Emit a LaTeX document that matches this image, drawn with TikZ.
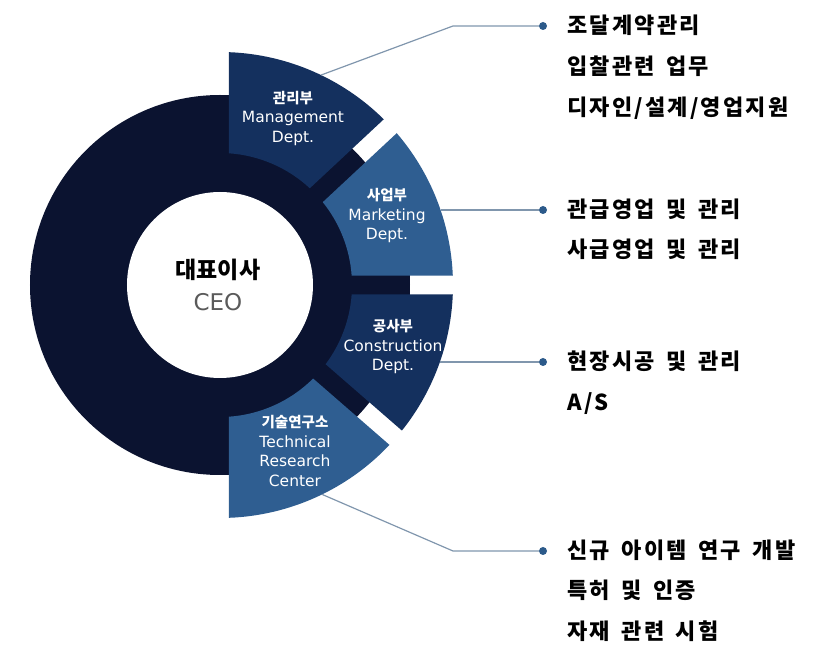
\documentclass[tikz,border=0pt]{standalone}
\usepackage{fontspec}
\setmainfont{Noto Sans CJK KR}
\newfontfamily\latinfont{DejaVu Sans}
\newfontfamily\dutyfont[LetterSpace=10, WordSpace=1.6]{Noto Sans CJK KR}
\usetikzlibrary{positioning}

\definecolor{ringnavy}{HTML}{0B1330}
\definecolor{deepblue}{HTML}{14305E}
\definecolor{midblue}{HTML}{2F5E91}
\definecolor{leadgray}{HTML}{8096AD}
\definecolor{dotblue}{HTML}{2C5A8A}
\definecolor{ceogray}{HTML}{5A5A5A}

\begin{document}
\begin{tikzpicture}[x=1pt, y=1pt,
  dept/.style={align=center, text=white, font=\fontsize{15.5}{19.5}\latinfont},
  ceo/.style={align=center, font=\fontsize{23}{28}\selectfont},
  dot/.style={circle, fill=dotblue, inner sep=0pt, minimum size=8pt},
  lead/.style={draw=leadgray, line width=1.2pt},
  duty/.style={anchor=west, inner sep=0pt, text height=19pt, text depth=3pt,
    font=\fontsize{22}{26}\dutyfont\bfseries},
]
\useasboundingbox (-220,-384) rectangle (603,285);

% Ring
\fill[ringnavy] (0,0) circle[radius=190pt];
\fill[white] (0,0) circle[radius=93pt];

% Sectors (upper angle/gap/lower angle/gap/colour)
\foreach \a/\ga/\b/\gb/\col in {90/9/43/9.5/deepblue, 43/9.5/0/9.5/midblue,
    0/9.5/-41/9.5/deepblue, -41/9.5/-90/9/midblue}{
  \pgfmathsetmacro{\ao}{\a-asin(\ga/233)}
  \pgfmathsetmacro{\ai}{\a-asin(\ga/132)}
  \pgfmathsetmacro{\bo}{\b+asin(\gb/233)}
  \pgfmathsetmacro{\bi}{\b+asin(\gb/132)}
  \fill[\col] (\ao:233pt) arc[start angle=\ao, end angle=\bo, radius=233pt]
    -- (\bi:132pt) arc[start angle=\bi, end angle=\ai, radius=132pt] -- cycle;
}

% CEO
\node[ceo] (ceo) at (-2,15) {\bfseries 대표이사};
\node[ceo, text=ceogray] (ceoen) at (-2,-17) {\latinfont CEO};

% Departments
\node[dept] (mgmt) at (73,167) {{\fontsize{14.5}{19.5}\rmfamily\bfseries 관리부}\\Management\\Dept.};
\node[dept] (mkt) at (167,69) {{\fontsize{14.5}{19.5}\rmfamily\bfseries 사업부}\\Marketing\\Dept.};
\node[dept] (cons) at (173,-62) {{\fontsize{14.5}{19.5}\rmfamily\bfseries 공사부}\\Construction\\Dept.};
\node[dept] (tech) at (75,-166) {{\fontsize{14.5}{19.5}\rmfamily\bfseries 기술연구소}\\Technical\\Research\\Center};

% Leaders
\coordinate (m1) at (64.3:233pt);
\coordinate (k1) at (233,259);
\node[dot] (d1) at (323,259) {};
\draw[lead] (m1) -- (k1) -- (d1);

\coordinate (m2) at (220.6,75);
\node[dot] (d2) at (323,75) {};
\draw[lead] (m2) -- (d2);

\coordinate (m3) at (219.9,-77);
\node[dot] (d3) at (323,-77) {};
\draw[lead] (m3) -- (d3);

\coordinate (m4) at (-64:233pt);
\coordinate (k4) at (233,-266);
\node[dot] (d4) at (323,-266) {};
\draw[lead] (m4) -- (k4) -- (d4);

% Duties
\node[duty, right=20pt of d1] (t1a) {조달계약관리};
\node[duty, below=41pt of t1a.west, anchor=west] (t1b) {입찰관련 업무};
\node[duty, below=41pt of t1b.west, anchor=west] (t1c) {디자인/설계/영업지원};

\node[duty, right=20pt of d2] (t2a) {관급영업 및 관리};
\node[duty, below=40pt of t2a.west, anchor=west] (t2b) {사급영업 및 관리};

\node[duty, right=20pt of d3] (t3a) {현장시공 및 관리};
\node[duty, below=41pt of t3a.west, anchor=west] (t3b) {A/S};

\node[duty, right=20pt of d4] (t4a) {신규 아이템 연구 개발};
\node[duty, below=40pt of t4a.west, anchor=west] (t4b) {특허 및 인증};
\node[duty, below=41pt of t4b.west, anchor=west] (t4c) {자재 관련 시험};

\end{tikzpicture}
\end{document}
